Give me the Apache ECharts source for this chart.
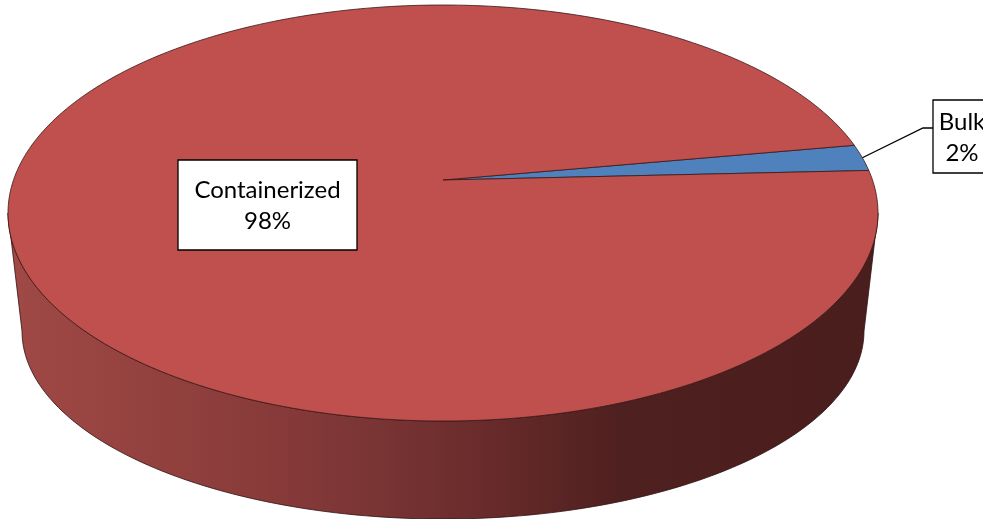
<!DOCTYPE html>
<html><head><meta charset="utf-8">
<script src="https://cdn.jsdelivr.net/npm/echarts@6/dist/echarts.min.js"></script>
<style>html,body{margin:0;padding:0;background:#fff;overflow:hidden}#c{width:983px;height:519px}</style>
</head><body><div id="c"></div>
<script>
// ---- data ----
const categories = ['Bulk', 'Containerized'];
const values = [2, 98];
const colors = ['#4f81bd', '#c0504d'];

// ---- style / geometry ----
const startDeg = -19;           // rotation of the first slice (degrees, screen clockwise)
const G = {cx: 443, cy: 213, rx: 435, ry: 208, apexX: 443, apexY: 180,
           bcx: 443, bcy: 331, brx: 421, bry: 188};
const labelPos = [
  {box: [933, 100, 58, 73], leader: [[923, 128], [933, 128]]},
  {box: [178, 160, 179, 90]}
];
const FONT = '24px Lato, "Open Sans", sans-serif';

const total = values.reduce((a, b) => a + b, 0);
const rad = d => d * Math.PI / 180;
function topPt(t) { return [G.cx + G.rx * Math.cos(t), G.cy + G.ry * Math.sin(t)]; }
function botPt(t) { return [G.bcx + G.brx * Math.cos(t), G.bcy + G.bry * Math.sin(t)]; }
function arc(fn, a, b, n) {
  const pts = [];
  for (let i = 0; i <= n; i++) pts.push(fn(a + (b - a) * i / n));
  return pts;
}
function sliceRange(idx) {
  let acc = 0;
  for (let i = 0; i < idx; i++) acc += values[i];
  const a0 = rad(startDeg) + acc / total * 2 * Math.PI;
  const a1 = a0 + values[idx] / total * 2 * Math.PI;
  return [a0, a1];
}
const gx0 = 9, gx1 = 878, gs = x => (x - gx0) / (gx1 - gx0);
const sideGrad = new echarts.graphic.LinearGradient(gx0, 0, gx1, 0, [
  {offset: 0, color: '#a04946'},
  {offset: gs(250), color: '#8a3c3a'},
  {offset: gs(350), color: '#7d3636'},
  {offset: gs(450), color: '#6f2e2e'},
  {offset: gs(550), color: '#5c2625'},
  {offset: gs(620), color: '#4e201f'},
  {offset: 1, color: '#4a1e1d'}
], true);

const chart = echarts.init(document.getElementById('c'));
chart.setOption({
  animation: false,
  series: [{
    type: 'custom',
    coordinateSystem: 'none',
    data: values.map((v, i) => ({name: categories[i], value: v})),
    renderItem: function (params, api) {
      const i = params.dataIndex;
      const [a0, a1] = sliceRange(i);
      const children = [];
      // side walls (front half only: t in [0, PI])
      for (let k = -1; k <= 1; k++) {
        const s = Math.max(a0, k * 2 * Math.PI), e = Math.min(a1, k * 2 * Math.PI + Math.PI);
        if (e > s) {
          const pts = arc(topPt, s, e, 120).concat(arc(botPt, e, s, 120));
          children.push({type: 'polygon', z2: 1, shape: {points: pts},
            style: {fill: sideGrad, stroke: '#2e1212', lineWidth: 0.8}});
        }
      }
      // top face
      const n = Math.max(4, Math.ceil((a1 - a0) / (2 * Math.PI) * 360));
      const topPts = [[G.apexX, G.apexY]].concat(arc(topPt, a0, a1, n));
      children.push({type: 'polygon', z2: 2, shape: {points: topPts},
        style: {fill: colors[i], stroke: '#3a1818', lineWidth: 0.8}});
      // label
      const L = labelPos[i];
      const pct = Math.round(values[i] / total * 100) + '%';
      if (L.leader) {
        const mid = topPt((a0 + a1) / 2);
        children.push({type: 'polyline', z2: 5, shape: {points: [mid].concat(L.leader)},
          style: {stroke: '#000', lineWidth: 1.3, fill: null}});
      }
      const [bx, by, bw, bh] = L.box;
      children.push({type: 'rect', z2: 6, shape: {x: bx, y: by, width: bw, height: bh},
        style: {fill: '#fff', stroke: '#000', lineWidth: 1.3}});
      children.push({type: 'text', z2: 7, style: {
        text: categories[i] + '\n' + pct, x: bx + bw / 2, y: by + bh / 2 + 1,
        align: 'center', verticalAlign: 'middle', font: FONT, lineHeight: 31, fill: '#000'}});
      return {type: 'group', children: children};
    }
  }]
});
</script></body></html>
